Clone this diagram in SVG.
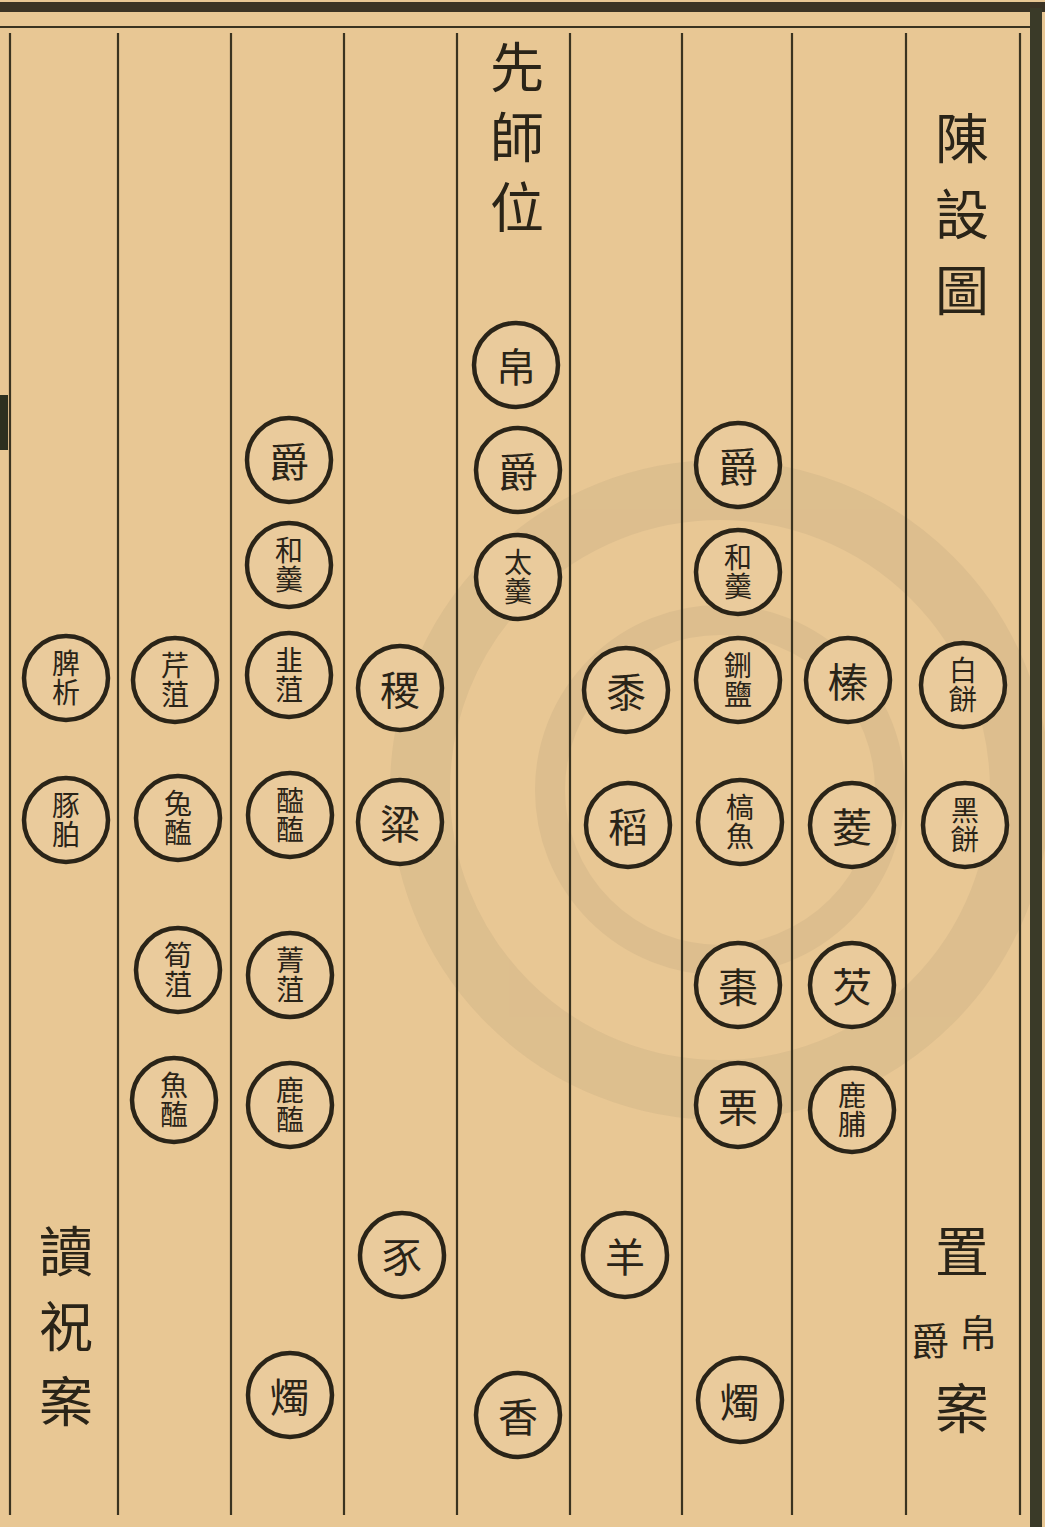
<svg xmlns="http://www.w3.org/2000/svg" width="1045" height="1527" viewBox="0 0 1045 1527">
<defs>
<style>
.bg{fill:#e8c794}
.rule{stroke:#3a3320;stroke-width:2.2;fill:none}
.ring{fill:#eacb9c;stroke:#2a2418;stroke-width:4.5}
.t{font-family:"Noto Sans CJK TC","Noto Sans CJK SC",sans-serif;fill:#2a2418;text-anchor:middle;dominant-baseline:central}
.one{font-size:40px}
.two{font-size:28px;writing-mode:vertical-rl;letter-spacing:1px}
.big{font-size:54px}
.vt{font-size:54px;writing-mode:vertical-rl}
</style>
</defs>
<rect class="bg" x="0" y="0" width="1045" height="1527"/>
<g id="watermark" opacity="0.07" fill="none" stroke="#555048">
<circle cx="720" cy="790" r="300" stroke-width="60"/>
<circle cx="720" cy="790" r="170" stroke-width="30"/>
</g>
<g id="frame">
<rect x="0" y="2" width="1045" height="10" fill="#3b3324"/>
<line class="rule" x1="0" y1="27" x2="1030" y2="27"/>
<rect x="1030" y="8" width="12" height="1519" fill="#3a3a28"/>
<rect x="0" y="395" width="8" height="55" fill="#2c3020"/>
</g>
<g id="columns">
<line class="rule" x1="10" y1="33" x2="10" y2="1515"/>
<line class="rule" x1="118" y1="33" x2="118" y2="1515"/>
<line class="rule" x1="231" y1="33" x2="231" y2="1515"/>
<line class="rule" x1="344" y1="33" x2="344" y2="1515"/>
<line class="rule" x1="457" y1="33" x2="457" y2="1515"/>
<line class="rule" x1="570" y1="33" x2="570" y2="1515"/>
<line class="rule" x1="682" y1="33" x2="682" y2="1515"/>
<line class="rule" x1="792" y1="33" x2="792" y2="1515"/>
<line class="rule" x1="906" y1="33" x2="906" y2="1515"/>
<line class="rule" x1="1020" y1="33" x2="1020" y2="1515"/>
</g>
<g id="titles">
<text class="t vt" x="517" y="145" letter-spacing="16">先師位</text>
<text class="t vt" x="962" y="225" letter-spacing="22">陳設圖</text>
<text class="t vt" x="66" y="1337" letter-spacing="21">讀祝案</text>
<text class="t big" x="962" y="1248">置</text>
<text class="t" x="978" y="1330" font-size="38">帛</text>
<text class="t" x="930" y="1338" font-size="38">爵</text>
<text class="t big" x="962" y="1405">案</text>
</g>
<g id="c1">
<g id="n-piXi"><circle class="ring" cx="66" cy="678" r="42"/><text class="t two" x="66" y="678">脾析</text></g>
<g id="n-tunPo"><circle class="ring" cx="66" cy="820" r="42"/><text class="t two" x="66" y="820">豚胉</text></g>
</g>
<g id="c2">
<g id="n-qinZu"><circle class="ring" cx="175" cy="680" r="42"/><text class="t two" x="175" y="680">芹菹</text></g>
<g id="n-tuHai"><circle class="ring" cx="178" cy="818" r="42"/><text class="t two" x="178" y="818">兔醢</text></g>
<g id="n-sunZu"><circle class="ring" cx="178" cy="970" r="42"/><text class="t two" x="178" y="970">筍菹</text></g>
<g id="n-yuHai"><circle class="ring" cx="174" cy="1100" r="42"/><text class="t two" x="174" y="1100">魚醢</text></g>
</g>
<g id="c3">
<g id="n-jue1"><circle class="ring" cx="289" cy="460" r="42"/><text class="t one" x="289" y="460">爵</text></g>
<g id="n-heGeng1"><circle class="ring" cx="289" cy="565" r="42"/><text class="t two" x="289" y="565">和羹</text></g>
<g id="n-jiuZu"><circle class="ring" cx="289" cy="675" r="42"/><text class="t two" x="289" y="675">韭菹</text></g>
<g id="n-tanHai"><circle class="ring" cx="290" cy="815" r="42"/><text class="t two" x="290" y="815">醓醢</text></g>
<g id="n-jingZu"><circle class="ring" cx="290" cy="975" r="42"/><text class="t two" x="290" y="975">菁菹</text></g>
<g id="n-luHai"><circle class="ring" cx="290" cy="1105" r="42"/><text class="t two" x="290" y="1105">鹿醢</text></g>
<g id="n-zhu1"><circle class="ring" cx="290" cy="1395" r="42"/><text class="t one" x="290" y="1395">燭</text></g>
</g>
<g id="c4">
<g id="n-ji"><circle class="ring" cx="400" cy="688" r="42"/><text class="t one" x="400" y="688">稷</text></g>
<g id="n-liang"><circle class="ring" cx="400" cy="822" r="42"/><text class="t one" x="400" y="822">粱</text></g>
<g id="n-shi"><circle class="ring" cx="402" cy="1255" r="42"/><text class="t one" x="402" y="1255">豕</text></g>
</g>
<g id="c5">
<g id="n-bo"><circle class="ring" cx="516" cy="365" r="42"/><text class="t one" x="516" y="365">帛</text></g>
<g id="n-jue2"><circle class="ring" cx="518" cy="470" r="42"/><text class="t one" x="518" y="470">爵</text></g>
<g id="n-taiGeng"><circle class="ring" cx="518" cy="577" r="42"/><text class="t two" x="518" y="577">太羹</text></g>
<g id="n-xiang"><circle class="ring" cx="518" cy="1415" r="42"/><text class="t one" x="518" y="1415">香</text></g>
</g>
<g id="c6">
<g id="n-shu"><circle class="ring" cx="626" cy="690" r="42"/><text class="t one" x="626" y="690">黍</text></g>
<g id="n-dao"><circle class="ring" cx="628" cy="825" r="42"/><text class="t one" x="628" y="825">稻</text></g>
<g id="n-yang"><circle class="ring" cx="625" cy="1255" r="42"/><text class="t one" x="625" y="1255">羊</text></g>
</g>
<g id="c7">
<g id="n-jue3"><circle class="ring" cx="738" cy="465" r="42"/><text class="t one" x="738" y="465">爵</text></g>
<g id="n-heGeng2"><circle class="ring" cx="738" cy="572" r="42"/><text class="t two" x="738" y="572">和羹</text></g>
<g id="n-xingYan"><circle class="ring" cx="738" cy="680" r="42"/><text class="t two" x="738" y="680">鉶鹽</text></g>
<g id="n-gaoYu"><circle class="ring" cx="740" cy="822" r="42"/><text class="t two" x="740" y="822">槁魚</text></g>
<g id="n-zao"><circle class="ring" cx="738" cy="985" r="42"/><text class="t one" x="738" y="985">棗</text></g>
<g id="n-li"><circle class="ring" cx="738" cy="1105" r="42"/><text class="t one" x="738" y="1105">栗</text></g>
<g id="n-zhu2"><circle class="ring" cx="740" cy="1400" r="42"/><text class="t one" x="740" y="1400">燭</text></g>
</g>
<g id="c8">
<g id="n-zhen"><circle class="ring" cx="848" cy="680" r="42"/><text class="t one" x="848" y="680">榛</text></g>
<g id="n-ling"><circle class="ring" cx="852" cy="825" r="42"/><text class="t one" x="852" y="825">菱</text></g>
<g id="n-qian"><circle class="ring" cx="852" cy="985" r="42"/><text class="t one" x="852" y="985">芡</text></g>
<g id="n-luFu"><circle class="ring" cx="852" cy="1110" r="42"/><text class="t two" x="852" y="1110">鹿脯</text></g>
</g>
<g id="c9">
<g id="n-baiBing"><circle class="ring" cx="963" cy="685" r="42"/><text class="t two" x="963" y="685">白餅</text></g>
<g id="n-heiBing"><circle class="ring" cx="965" cy="825" r="42"/><text class="t two" x="965" y="825">黑餅</text></g>
</g>
<g id="connectors"></g>
</svg>
